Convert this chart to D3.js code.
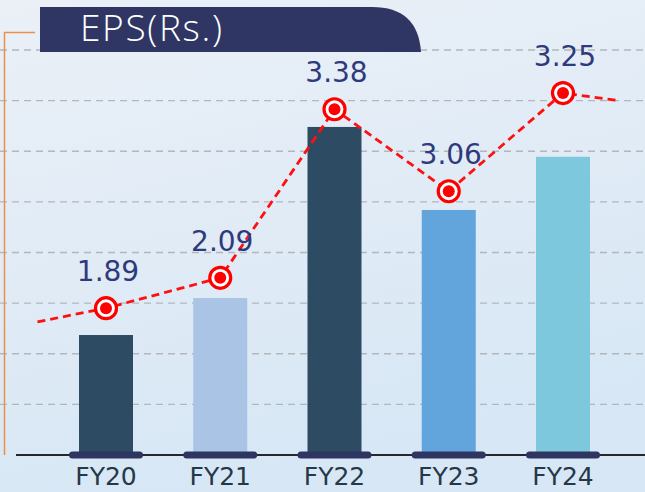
<!DOCTYPE html>
<html>
<head>
<meta charset="utf-8">
<script src="https://cdn.jsdelivr.net/npm/d3@7"></script>
<style>
  body { margin: 0; padding: 0; overflow: hidden; }
  svg { display: block; }
</style>
</head>
<body>
<div id="chart-area"></div>
<script>
const WIDTH = 645
const HEIGHT = 492

// categories and values
const years = ["FY20", "FY21", "FY22", "FY23", "FY24"]
const epsLabels = ["1.89", "2.09", "3.38", "3.06", "3.25"]
// bar heights and marker heights, in gridline units (decorative, not to scale with EPS)
const barLevel = [2.37, 3.10, 6.48, 4.84, 5.89]
const markerLevel = [2.90, 3.50, 6.83, 5.21, 7.15]
// dashed line runs a little past the first and last markers
const leadIn = {pos: -0.6, level: 2.63}
const tailOut = {pos: 4.46, level: 7.01}
const barColors = ["#2d4b63", "#a9c4e4", "#2d4b63", "#62a5dc", "#7ec8de"]
const gridTicks = d3.range(1, 9)

const svg = d3.select("#chart-area").append("svg")
  .attr("width", WIDTH)
  .attr("height", HEIGHT)

// background
const defs = svg.append("defs")
const bg = defs.append("linearGradient").attr("id", "bg")
  .attr("x1", 0).attr("y1", 0).attr("x2", 0.3).attr("y2", 1)
bg.append("stop").attr("offset", "0%").attr("stop-color", "#ebf0f7")
bg.append("stop").attr("offset", "100%").attr("stop-color", "#d7e7f5")
svg.append("rect").attr("width", WIDTH).attr("height", HEIGHT).attr("fill", "url(#bg)")

const x = d3.scaleLinear().domain([0, 4]).range([106, 563])
const y = d3.scaleLinear().domain([0, 8]).range([455, 50])
const barW = 54

// gridlines
svg.append("g").selectAll("line").data(gridTicks).join("line")
  .attr("x1", 0).attr("x2", WIDTH)
  .attr("y1", d => y(d)).attr("y2", d => y(d))
  .attr("stroke", "#b3b7bc")
  .attr("stroke-width", 1.4)
  .attr("stroke-dasharray", "7,5")

// orange bracket on the left
svg.append("path")
  .attr("d", `M35,32.5 H4.5 V${y(0)}`)
  .attr("fill", "none")
  .attr("stroke", "#ee8f48")
  .attr("stroke-width", 1.5)

// title box
svg.append("path")
  .attr("d", "M40,7 H372 Q418,7 421,52 H40 Z")
  .attr("fill", "#2f3664")
svg.append("text")
  .attr("x", 80).attr("y", 41)
  .attr("font-family", "Open Sans, sans-serif")
  .attr("font-weight", 300)
  .attr("font-size", "37px")
  .attr("fill", "#ffffff")
  .attr("textLength", 142)
  .text("EPS(Rs.)")

// baseline
svg.append("line")
  .attr("x1", 16).attr("x2", WIDTH)
  .attr("y1", y(0)).attr("y2", y(0))
  .attr("stroke", "#23282e")
  .attr("stroke-width", 2)

// bars
svg.append("g").selectAll("rect").data(barLevel).join("rect")
  .attr("x", (d, i) => x(i) - barW / 2)
  .attr("y", d => y(d))
  .attr("width", barW)
  .attr("height", d => y(0) - y(d))
  .attr("fill", (d, i) => barColors[i])

// pills under the bars
svg.append("g").selectAll("rect").data(years).join("rect")
  .attr("x", (d, i) => x(i) - 37)
  .attr("y", y(0) - 3.5)
  .attr("width", 74)
  .attr("height", 7)
  .attr("rx", 3.5)
  .attr("fill", "#2f3561")

// category labels
svg.append("g").selectAll("text").data(years).join("text")
  .attr("x", (d, i) => x(i))
  .attr("y", 485)
  .attr("text-anchor", "middle")
  .attr("font-family", "DejaVu Sans, sans-serif")
  .attr("font-size", "25px")
  .attr("fill", "#253848")
  .text(d => d)

// dashed red line
const pts = [[leadIn.pos, leadIn.level]]
  .concat(markerLevel.map((v, i) => [i, v]))
  .concat([[tailOut.pos, tailOut.level]])
const line = d3.line().x(d => x(d[0])).y(d => y(d[1]))
svg.append("path")
  .datum(pts)
  .attr("d", line)
  .attr("fill", "none")
  .attr("stroke", "#ff1010")
  .attr("stroke-width", 2.8)
  .attr("stroke-dasharray", "8,5")

// markers
const markers = svg.append("g").selectAll("g").data(markerLevel).join("g")
  .attr("transform", (d, i) => `translate(${x(i)}, ${y(d)})`)
markers.append("circle")
  .attr("r", 10.5)
  .attr("fill", "#ffffff")
  .attr("stroke", "#ff0000")
  .attr("stroke-width", 3.2)
markers.append("circle")
  .attr("r", 6)
  .attr("fill", "#ff0000")

// value labels
svg.append("g").selectAll("text").data(epsLabels).join("text")
  .attr("x", (d, i) => x(i) + 2)
  .attr("y", (d, i) => y(markerLevel[i]) - 27)
  .attr("text-anchor", "middle")
  .attr("font-family", "DejaVu Sans, sans-serif")
  .attr("font-size", "28px")
  .attr("fill", "#2e3a7c")
  .text(d => d)
</script>
</body>
</html>
